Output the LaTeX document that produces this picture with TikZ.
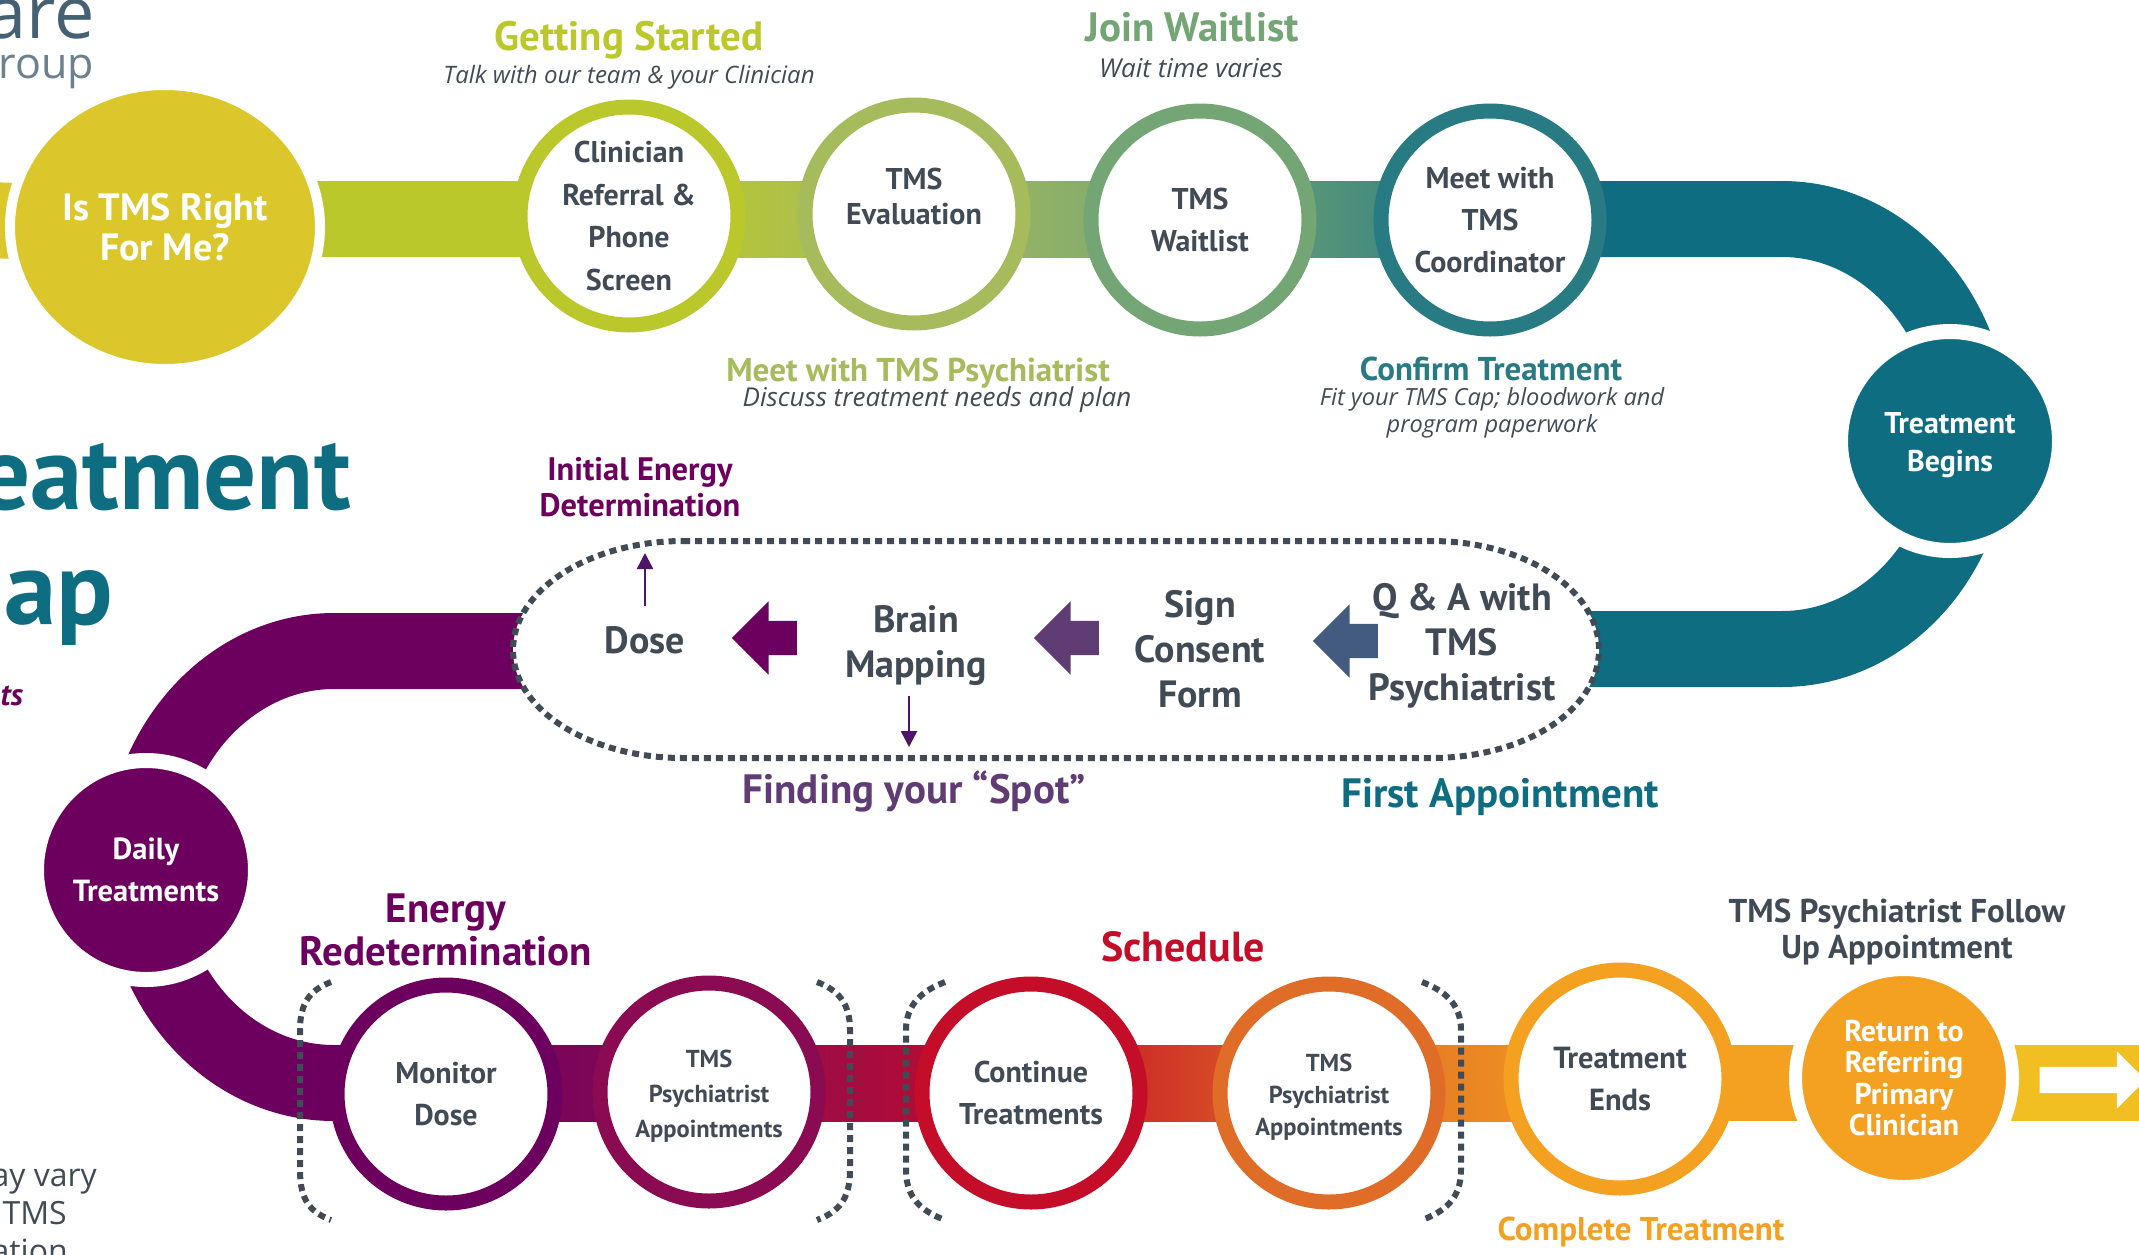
\documentclass[tikz,border=0pt]{standalone}
\usepackage{fontspec}
\setmainfont{PT Sans}
\newfontfamily\notefont{Open Sans}
\usetikzlibrary{arrows.meta,backgrounds,shapes.geometric,shapes.arrows}
\definecolor{inkgrey}{HTML}{414B56}
\definecolor{lime}{HTML}{BBC82C}
\definecolor{mustard}{HTML}{DBC72B}
\definecolor{sage}{HTML}{A5BB5C}
\definecolor{moss}{HTML}{74A574}
\definecolor{seagreen}{HTML}{287B83}
\definecolor{petrol}{HTML}{0F6D82}
\definecolor{plum}{HTML}{6D005E}
\definecolor{wine}{HTML}{8B0B52}
\definecolor{crimson}{HTML}{C40D28}
\definecolor{rust}{HTML}{DF6D27}
\definecolor{amber}{HTML}{F4A021}
\definecolor{sun}{HTML}{F2BF22}
\definecolor{dusk}{HTML}{5F3C74}
\definecolor{slate}{HTML}{425B7F}
\definecolor{violet}{HTML}{4D1468}
\definecolor{logoteal}{HTML}{456072}
\definecolor{logogrey}{HTML}{6B8190}
\tikzset{
  sz/.style 2 args={font=\fontsize{#1}{#2}\selectfont\bfseries},
  note/.style 2 args={font=\fontsize{#1}{#2}\selectfont\notefont\itshape,text=inkgrey,align=center},
  ring/.style={circle,draw=#1,line width=15pt,fill=white,minimum size=218pt,inner sep=0pt,
    align=center,text=inkgrey,sz={30}{42}},
  stop/.style={circle,draw=white,fill=#1,line width=15pt,minimum size=219pt,inner sep=0pt,
    align=center,text=white,sz={30}{40}},
  head/.style={align=center,text=#1,inner sep=0pt},
  inpill/.style={align=center,text=inkgrey,inner sep=0pt,sz={38}{45}},
  blockarrow/.style={single arrow,fill=#1,inner xsep=0pt,inner ysep=17pt,minimum height=65pt,
    single arrow head extend=19.5pt,shape border rotate=180},
  dotline/.style={draw=inkgrey,line width=6pt,dash pattern=on 7pt off 5pt},
  band/.style={draw=#1,line width=76pt},
  thinarrow/.style={draw=violet,line width=2.5pt,-{Triangle[length=16pt,width=16pt]}}
}
\begin{document}
\begin{tikzpicture}[x=1pt,y=-1pt]
  \useasboundingbox (0,0) rectangle (2139,1254);
  % top row
  \node[stop=mustard,line width=10pt,shape=ellipse,minimum width=310pt,minimum height=284pt,sz={38}{40}] (istms) at (165,227) {Is TMS Right\\For Me?};
  \node[ring=lime,sz={30}{42.5}] (clin) at (629,216) {Clinician\\Referral \&\\Phone\\Screen};
  \node[ring=sage,sz={30}{35}] (eval) at (914,214) {TMS\\Evaluation\\~};
  \node[ring=moss] (wait) at (1200,220) {TMS\\Waitlist};
  \node[ring=seagreen] (coord) at (1490,220) {Meet with\\TMS\\Coordinator};
  \node[stop=petrol,sz={30}{38}] (begin) at (1950,441) {\rule{0pt}{29pt}Treatment\\Begins};
  \node[head=lime,sz={41}{44}] (startlbl) at (629,40) {Getting Started};
  \node[note={24}{30}] (startnote) at (629,77) {Talk with our team \& your Clinician};
  \node[head=moss,sz={41}{44}] (waitlbl) at (1192,27) {Join Waitlist};
  \node[note={26}{30}] (waitnote) at (1191,68) {Wait time varies};
  \node[head=sage,sz={33}{38}] (evallbl) at (918,373) {Meet with TMS Psychiatrist};
  \node[note={26}{30}] (evalnote) at (937,400) {Discuss treatment needs and plan};
  \node[head=seagreen,sz={33}{38}] (coordlbl) at (1491,369) {Confirm Treatment};
  \node[note={23.6}{27}] (coordnote) at (1492,413) {Fit your TMS Cap; bloodwork and\\program paperwork};
  % left edge
  \node[text=logoteal,anchor=base east,inner sep=0pt,font=\fontsize{72}{72}\selectfont\notefont] (logoa) at (95,38) {are};
  \node[text=logogrey,anchor=base east,inner sep=0pt,font=\fontsize{43}{43}\selectfont\notefont] (logob) at (94,78) {group};
  \node[text=petrol,anchor=base east,inner sep=0pt,sz={105}{105}] (titlea) at (351,509) {eatment};
  \node[text=petrol,anchor=base east,inner sep=0pt,sz={105}{105}] (titleb) at (113,624) {ap};
  \node[text=plum,anchor=base east,inner sep=0pt,font=\fontsize{31}{31}\selectfont\bfseries\itshape] (sidea) at (23,705) {ts};
  \node[text=inkgrey,anchor=base east,inner sep=0pt,font=\fontsize{32}{32}\selectfont\notefont] (sideb) at (97,1186) {ay vary};
  \node[text=inkgrey,anchor=base east,inner sep=0pt,font=\fontsize{32}{32}\selectfont\notefont] (sidec) at (67,1224) {TMS};
  \node[text=inkgrey,anchor=base east,inner sep=0pt,font=\fontsize{32}{32}\selectfont\notefont] (sided) at (68,1262) {ation};
  % first appointment
  \draw[dotline,fill=white] (683,541) -- (1431,541) .. controls (1525,541) and (1599,590) .. (1599,650)
    .. controls (1599,710) and (1525,758) .. (1431,758) -- (683,758)
    .. controls (590,758) and (513,710) .. (513,650) .. controls (513,590) and (590,541) .. (683,541) -- cycle;
  \node[inpill] (qa) at (1462,646) {Q \& A with\\TMS\\Psychiatrist};
  \node[inpill] (sign) at (1200,649) {Sign\\Consent\\Form};
  \node[inpill] (brain) at (916,646) {Brain\\Mapping};
  \node[inpill] (dose) at (645,640) {Dose};
  \node[blockarrow=slate] (qaarrow) at (1354,641) {};
  \node[blockarrow=dusk] (signarrow) at (1075,638) {};
  \node[blockarrow=plum] (brainarrow) at (773,638) {};
  \coordinate (doseend) at (645,553);
  \coordinate (spotend) at (909,747);
  \draw[thinarrow,shorten <=20pt] (dose.north) -- (doseend);
  \draw[thinarrow,shorten <=10pt] (brain.south -| spotend) -- (spotend);
  \node[head=plum,sz={32.5}{36}] (energylbl) at (640,487) {Initial Energy\\Determination};
  \node[head=dusk,sz={41}{44}] (spotlbl) at (914,791) {Finding your “Spot”};
  \node[head=petrol,sz={41}{44}] (firstlbl) at (1500,797) {First Appointment};
  % bottom row
  \node[stop=plum,sz={30.5}{42}] (daily) at (146,870) {Daily\\Treatments};
  \node[ring=plum] (monitor) at (446,1094) {Monitor\\Dose};
  \node[ring=wine,sz={24.5}{35}] (psycha) at (709,1092) {\rule{0pt}{25pt}TMS\\Psychiatrist\\Appointments};
  \node[ring=crimson] (cont) at (1031,1093) {Continue\\Treatments};
  \node[ring=rust,sz={24.5}{32}] (psychb) at (1329,1093) {\rule{0pt}{25pt}TMS\\Psychiatrist\\Appointments};
  \node[ring=amber,sz={30.5}{42}] (ends) at (1620,1079) {Treatment\\Ends};
  \node[stop=amber,line width=13pt,minimum size=217pt,sz={30}{31.5}] (back) at (1904,1078) {Return to\\Referring\\Primary\\Clinician};
  \node[head=plum,sz={41}{43}] (redolbl) at (446,930) {Energy\\Redetermination};
  \node[head=crimson,sz={42}{44}] (schedlbl) at (1183,947) {Schedule};
  \node[head=inkgrey,sz={33}{36}] (followlbl) at (1897,932) {TMS Psychiatrist Follow\\Up Appointment};
  \node[head=amber,sz={33}{38}] (donelbl) at (1641,1232) {Complete Treatment};
  \draw[dotline] (331,982) .. controls (310,990) and (300,1003) .. (300,1030) -- (300,1170) .. controls (300,1200) and (310,1212) .. (331,1220);
  \draw[dotline] (817,982) .. controls (838,990) and (850,1003) .. (850,1030) -- (850,1170) .. controls (850,1200) and (838,1212) .. (817,1220);
  \draw[dotline] (945,982) .. controls (924,990) and (906,1003) .. (906,1030) -- (906,1170) .. controls (906,1200) and (924,1212) .. (945,1220);
  \draw[dotline] (1422,982) .. controls (1443,990) and (1461,1003) .. (1461,1030) -- (1461,1170) .. controls (1461,1200) and (1443,1212) .. (1422,1220);
  \coordinate (inleft) at (-10,220);
  \coordinate (outright) at (2150,1083);
  \coordinate (turnr) at (1972,435);
  \coordinate (turnl) at (142,869);
  \node[single arrow,fill=white,inner xsep=0pt,inner ysep=13pt,minimum height=106pt,single arrow head extend=15.5pt] (exitarrow) at (2086,1080) {};
  \begin{scope}[on background layer]
    \draw[band=mustard] (inleft) -- (istms.center);
    \fill[lime] (istms.center |- 0,181) rectangle (clin.center |- 0,257);
    \shade[left color=lime,right color=sage] (clin.center |- 0,181) rectangle (eval.center |- 0,257);
    \shade[left color=sage,right color=moss] (eval.center |- 0,181) rectangle (wait.center |- 0,257);
    \shade[left color=moss,right color=seagreen] (wait.center |- 0,181) rectangle (coord.center |- 0,257);
    \draw[band=petrol] (coord.center |- 0,219) -- (1782,219) .. controls +(105,0) and +(0,-119) .. (turnr)
      .. controls +(0,118) and +(105,0) .. (1782,649) -- (qa.center |- 0,649);
    \draw[band=plum] (dose.center |- 0,651) -- (334,651) .. controls +(-106,0) and +(0,-120) .. (turnl)
      .. controls +(0,118) and +(-106,0) .. (334,1083) -- (monitor.center |- 0,1083);
    \shade[left color=plum,right color=wine] (monitor.center |- 0,1045) rectangle (psycha.center |- 0,1121);
    \shade[left color=wine,right color=crimson] (psycha.center |- 0,1045) rectangle (cont.center |- 0,1121);
    \shade[left color=crimson,right color=rust] (cont.center |- 0,1045) rectangle (psychb.center |- 0,1121);
    \shade[left color=rust,right color=amber] (psychb.center |- 0,1045) rectangle (ends.center |- 0,1121);
    \fill[amber] (ends.center |- 0,1045) rectangle (back.center |- 0,1121);
    \draw[band=sun] (back.center |- outright) -- (outright);
  \end{scope}
\end{tikzpicture}
\end{document}
